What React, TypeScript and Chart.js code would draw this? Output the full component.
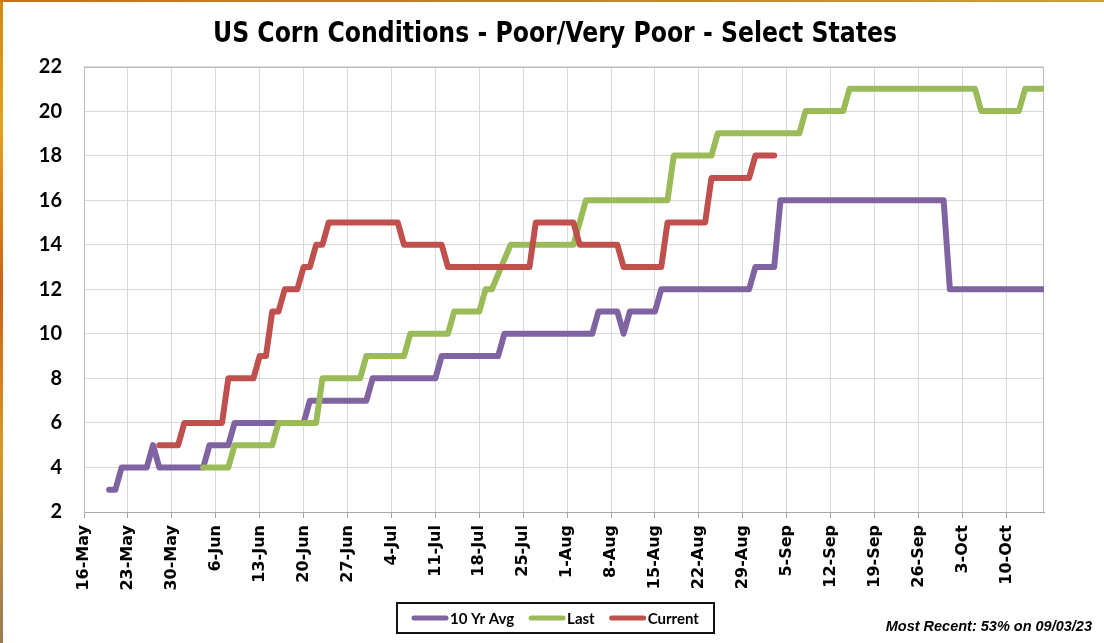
import React, { useEffect, useRef } from "react";
import { Chart, registerables } from "chart.js";

Chart.register(...registerables);

// ---------------- data ----------------
const chartTitle = "US Corn Conditions - Poor/Very Poor - Select States";
const footnote = "Most Recent: 53% on 09/03/23";
const seriesNames = ["10 Yr Avg", "Last", "Current"];
const seriesColors = ["#8064A2", "#9BBB59", "#C0504D"];

// x-axis: days counted from 16-May (day 0), one tick per week
const xMaxDay = 153; // 16-Oct
const tickLabels = [
  "16-May", "23-May", "30-May", "6-Jun", "13-Jun", "20-Jun", "27-Jun", "4-Jul",
  "11-Jul", "18-Jul", "25-Jul", "1-Aug", "8-Aug", "15-Aug", "22-Aug", "29-Aug",
  "5-Sep", "12-Sep", "19-Sep", "26-Sep", "3-Oct", "10-Oct",
];
const yMin = 2;
const yMax = 22;
const yStep = 2;

// 10 Yr Avg (day, % poor/very poor) at the days where the value changes
const avgDays = [4, 5, 6, 10, 11, 12, 19, 20, 23, 24, 35, 36, 45, 46, 56, 57, 66, 67, 81, 82, 85, 86, 87, 91, 92, 106, 107, 110, 111, 137, 138, 153];
const avgValues = [3, 3, 4, 4, 5, 4, 4, 5, 5, 6, 6, 7, 7, 8, 8, 9, 9, 10, 10, 11, 11, 10, 11, 11, 12, 12, 13, 13, 16, 16, 12, 12];

// Last year
const lastDays = [19, 23, 24, 30, 31, 37, 38, 44, 45, 51, 52, 58, 59, 63, 64, 65, 68, 78, 80, 93, 94, 100, 101, 114, 115, 121, 122, 142, 143, 149, 150, 153];
const lastValues = [4, 4, 5, 5, 6, 6, 8, 8, 9, 9, 10, 10, 11, 11, 12, 12, 14, 14, 16, 16, 18, 18, 19, 19, 20, 20, 21, 21, 20, 20, 21, 21];

// Current year
const currentDays = [12, 15, 16, 22, 23, 27, 28, 29, 30, 31, 32, 34, 35, 36, 37, 38, 39, 50, 51, 57, 58, 71, 72, 78, 79, 85, 86, 92, 93, 99, 100, 106, 107, 110];
const currentValues = [5, 5, 6, 6, 8, 8, 9, 9, 11, 11, 12, 12, 13, 13, 14, 14, 15, 15, 14, 14, 13, 13, 15, 15, 14, 14, 13, 13, 15, 15, 17, 17, 18, 18];

// ---------------- plugins ----------------
const backgroundPlugin = {
  id: "pageBackground",
  beforeDraw(chart: any) {
    const { ctx, width, height } = chart;
    ctx.save();
    ctx.fillStyle = "#ffffff";
    ctx.fillRect(0, 0, width, height);
    const gl = ctx.createLinearGradient(0, 0, 0, height);
    gl.addColorStop(0, "#d08a12");
    gl.addColorStop(0.2, "#e2a21e");
    gl.addColorStop(0.45, "#c8621c");
    gl.addColorStop(0.7, "#d79a2a");
    gl.addColorStop(1, "#9a7a55");
    ctx.fillStyle = gl;
    ctx.fillRect(0, 0, 3, height);
    const gt = ctx.createLinearGradient(0, 0, width, 0);
    gt.addColorStop(0, "#c9731a");
    gt.addColorStop(0.5, "#b8862e");
    gt.addColorStop(1, "#c9a03a");
    ctx.fillStyle = gt;
    ctx.fillRect(0, 0, width, 2);
    ctx.restore();
  },
};

const decorPlugin = {
  id: "decor",
  beforeDatasetsDraw(chart: any) {
    const { ctx, chartArea } = chart;
    ctx.save();
    ctx.strokeStyle = "#bfbfbf";
    ctx.lineWidth = 1;
    const t = Math.round(chartArea.top) + 0.5;
    const r = Math.round(chartArea.right) - 0.5;
    ctx.beginPath();
    ctx.moveTo(chartArea.left, t);
    ctx.lineTo(r, t);
    ctx.lineTo(r, chartArea.bottom);
    ctx.stroke();
    ctx.restore();
  },
  afterDraw(chart: any) {
    const { ctx, width } = chart;
    ctx.save();
    // title (condensed, centred on the page)
    ctx.font = "bold 28px 'DejaVu Sans Condensed', 'Liberation Sans Narrow', sans-serif";
    const tw = ctx.measureText(chartTitle).width;
    const targetW = 684;
    const sx = targetW / tw;
    ctx.translate(width / 2 + 3, 42);
    ctx.scale(sx, 1);
    ctx.fillStyle = "#000000";
    ctx.textAlign = "center";
    ctx.textBaseline = "alphabetic";
    ctx.fillText(chartTitle, 0, 0);
    ctx.restore();

    ctx.save();
    // legend
    ctx.font = "bold 15px Lato, 'Open Sans', sans-serif";
    const sample = 36;
    const gapText = 2;
    const gapItem = 15;
    const padX = 15;
    const items = chart.data.datasets.map((ds: any) => ({
      label: ds.label as string,
      color: ds.borderColor as string,
      w: ctx.measureText(ds.label).width,
    }));
    let total = padX * 2 + gapItem * (items.length - 1);
    items.forEach((it: any) => (total += sample + gapText + it.w));
    const boxLeft = Math.round(width / 2 + 3.5 - total / 2);
    const boxTop = 603;
    const boxH = 30;
    ctx.strokeStyle = "#111111";
    ctx.lineWidth = 2;
    ctx.strokeRect(boxLeft, boxTop, Math.round(total), boxH);
    let x = boxLeft + padX;
    const cy = boxTop + boxH / 2;
    items.forEach((it: any) => {
      ctx.strokeStyle = it.color;
      ctx.lineWidth = 5;
      ctx.lineCap = "round";
      ctx.beginPath();
      ctx.moveTo(x + 2, cy);
      ctx.lineTo(x + sample - 2, cy);
      ctx.stroke();
      ctx.fillStyle = "#000000";
      ctx.textAlign = "left";
      ctx.textBaseline = "middle";
      ctx.fillText(it.label, x + sample + gapText, cy + 1);
      x += sample + gapText + it.w + gapItem;
    });
    // footnote
    ctx.font = "italic bold 14.5px 'Liberation Sans', Arial, sans-serif";
    ctx.textAlign = "right";
    ctx.textBaseline = "alphabetic";
    ctx.fillStyle = "#000000";
    ctx.fillText(footnote, 1092, 631);
    ctx.restore();
  },
};

// ---------------- component ----------------
export default function App() {
  const ref = useRef<HTMLCanvasElement>(null);

  useEffect(() => {
    const toPoints = (days: number[], values: number[]) =>
      days.map((d, i) => ({ x: d, y: values[i] }));
    const seriesDays = [avgDays, lastDays, currentDays];
    const seriesValues = [avgValues, lastValues, currentValues];

    const chart = new Chart(ref.current as HTMLCanvasElement, {
      type: "line",
      data: {
        datasets: seriesNames.map((name, i) => ({
          label: name,
          data: toPoints(seriesDays[i], seriesValues[i]),
          borderColor: seriesColors[i],
          backgroundColor: seriesColors[i],
          borderWidth: 6,
          borderCapStyle: "round",
          borderJoinStyle: "round",
          pointRadius: 0,
          pointHoverRadius: 0,
          tension: 0,
          fill: false,
          order: seriesNames.length - i,
        })),
      },
      options: {
        responsive: false,
        animation: false,
        devicePixelRatio: 1,
        layout: { padding: { left: 0, right: 60, top: 66.5, bottom: 0 } },
        plugins: {
          legend: { display: false },
          tooltip: { enabled: false },
          title: { display: false },
        },
        scales: {
          x: {
            type: "linear",
            min: 0,
            max: xMaxDay,
            afterFit: (scale: any) => {
              scale.height = 131;
            },
            ticks: {
              stepSize: 7,
              includeBounds: false,
              autoSkip: false,
              maxRotation: 90,
              minRotation: 90,
              padding: 7,
              color: "#000000",
              font: { family: "'DejaVu Sans', sans-serif", weight: "bold", size: 16 },
              callback: (v: any) => tickLabels[Math.round(Number(v) / 7)] ?? "",
            },
            grid: {
              color: "#d9d9d9",
              tickColor: "#a6a6a6",
              tickLength: 6,
              drawTicks: true,
            },
            border: { color: "#a6a6a6", width: 1 },
          },
          y: {
            type: "linear",
            min: yMin,
            max: yMax,
            afterFit: (scale: any) => {
              scale.width = 84;
            },
            ticks: {
              stepSize: yStep,
              padding: 22,
              color: "#000000",
              font: { family: "Lato, sans-serif", weight: "bold", size: 20 },
            },
            grid: { color: "#d9d9d9", drawTicks: false },
            border: { color: "#bfbfbf", width: 1 },
          },
        },
      },
      plugins: [backgroundPlugin, decorPlugin],
    } as any);

    return () => chart.destroy();
  }, []);

  return (
    <div style={{ position: "fixed", left: 0, top: 0, width: 1104, height: 643 }}>
      <canvas ref={ref} width={1104} height={643} style={{ display: "block", width: 1104, height: 643 }} />
    </div>
  );
}
